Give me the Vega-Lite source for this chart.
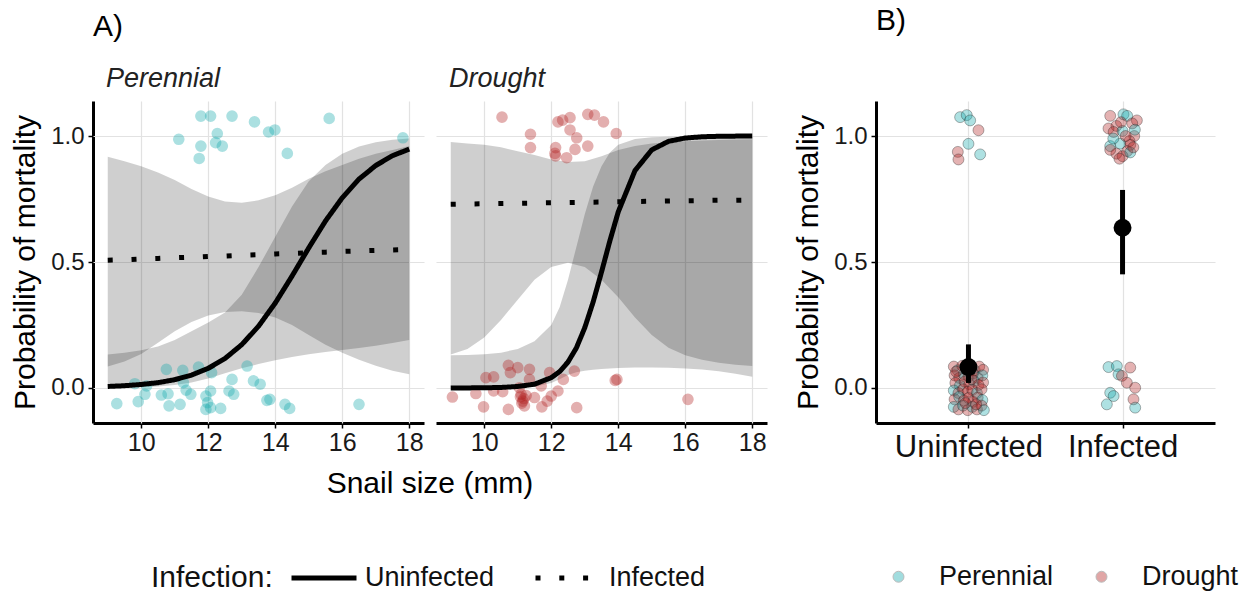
{
  "$schema": "https://vega.github.io/schema/vega-lite/v6.json",
  "background": "white",
  "padding": {"left": 10, "top": 6, "right": 5, "bottom": 0},
  "datasets": {
    "a": [
      {"k":"f","h":"Perennial","i":"Uninfected","s":9.0,"f":0.006,"lo":0.0,"hi":0.133},
      {"k":"f","h":"Perennial","i":"Uninfected","s":9.5,"f":0.009,"lo":0.001,"hi":0.14},
      {"k":"f","h":"Perennial","i":"Uninfected","s":10,"f":0.014,"lo":0.003,"hi":0.15},
      {"k":"f","h":"Perennial","i":"Uninfected","s":10.5,"f":0.021,"lo":0.006,"hi":0.165},
      {"k":"f","h":"Perennial","i":"Uninfected","s":11,"f":0.033,"lo":0.012,"hi":0.19},
      {"k":"f","h":"Perennial","i":"Uninfected","s":11.5,"f":0.051,"lo":0.022,"hi":0.225},
      {"k":"f","h":"Perennial","i":"Uninfected","s":12,"f":0.078,"lo":0.038,"hi":0.26},
      {"k":"f","h":"Perennial","i":"Uninfected","s":12.5,"f":0.117,"lo":0.058,"hi":0.3},
      {"k":"f","h":"Perennial","i":"Uninfected","s":13,"f":0.172,"lo":0.078,"hi":0.37},
      {"k":"f","h":"Perennial","i":"Uninfected","s":13.5,"f":0.245,"lo":0.095,"hi":0.48},
      {"k":"f","h":"Perennial","i":"Uninfected","s":14,"f":0.337,"lo":0.11,"hi":0.6},
      {"k":"f","h":"Perennial","i":"Uninfected","s":14.5,"f":0.444,"lo":0.123,"hi":0.72},
      {"k":"f","h":"Perennial","i":"Uninfected","s":15,"f":0.556,"lo":0.134,"hi":0.82},
      {"k":"f","h":"Perennial","i":"Uninfected","s":15.5,"f":0.663,"lo":0.143,"hi":0.885},
      {"k":"f","h":"Perennial","i":"Uninfected","s":16,"f":0.755,"lo":0.151,"hi":0.93},
      {"k":"f","h":"Perennial","i":"Uninfected","s":16.5,"f":0.829,"lo":0.159,"hi":0.958},
      {"k":"f","h":"Perennial","i":"Uninfected","s":17,"f":0.883,"lo":0.168,"hi":0.975},
      {"k":"f","h":"Perennial","i":"Uninfected","s":17.5,"f":0.922,"lo":0.179,"hi":0.985},
      {"k":"f","h":"Perennial","i":"Uninfected","s":18,"f":0.948,"lo":0.19,"hi":0.99},
      {"k":"f","h":"Perennial","i":"Infected","s":9.0,"f":0.507,"lo":0.085,"hi":0.918},
      {"k":"f","h":"Perennial","i":"Infected","s":9.5,"f":0.509,"lo":0.105,"hi":0.9},
      {"k":"f","h":"Perennial","i":"Infected","s":10,"f":0.512,"lo":0.135,"hi":0.88},
      {"k":"f","h":"Perennial","i":"Infected","s":10.5,"f":0.514,"lo":0.18,"hi":0.855},
      {"k":"f","h":"Perennial","i":"Infected","s":11,"f":0.517,"lo":0.225,"hi":0.825},
      {"k":"f","h":"Perennial","i":"Infected","s":11.5,"f":0.519,"lo":0.262,"hi":0.79},
      {"k":"f","h":"Perennial","i":"Infected","s":12,"f":0.522,"lo":0.288,"hi":0.76},
      {"k":"f","h":"Perennial","i":"Infected","s":12.5,"f":0.524,"lo":0.302,"hi":0.74},
      {"k":"f","h":"Perennial","i":"Infected","s":13,"f":0.527,"lo":0.305,"hi":0.735},
      {"k":"f","h":"Perennial","i":"Infected","s":13.5,"f":0.529,"lo":0.298,"hi":0.745},
      {"k":"f","h":"Perennial","i":"Infected","s":14,"f":0.532,"lo":0.28,"hi":0.765},
      {"k":"f","h":"Perennial","i":"Infected","s":14.5,"f":0.534,"lo":0.25,"hi":0.795},
      {"k":"f","h":"Perennial","i":"Infected","s":15,"f":0.537,"lo":0.21,"hi":0.83},
      {"k":"f","h":"Perennial","i":"Infected","s":15.5,"f":0.539,"lo":0.172,"hi":0.86},
      {"k":"f","h":"Perennial","i":"Infected","s":16,"f":0.542,"lo":0.14,"hi":0.885},
      {"k":"f","h":"Perennial","i":"Infected","s":16.5,"f":0.544,"lo":0.112,"hi":0.91},
      {"k":"f","h":"Perennial","i":"Infected","s":17,"f":0.546,"lo":0.088,"hi":0.93},
      {"k":"f","h":"Perennial","i":"Infected","s":17.5,"f":0.548,"lo":0.068,"hi":0.945},
      {"k":"f","h":"Perennial","i":"Infected","s":18,"f":0.55,"lo":0.054,"hi":0.96},
      {"k":"f","h":"Drought","i":"Uninfected","s":9.0,"f":0.0001,"lo":0.0,"hi":0.13},
      {"k":"f","h":"Drought","i":"Uninfected","s":9.5,"f":0.0003,"lo":0.0,"hi":0.131},
      {"k":"f","h":"Drought","i":"Uninfected","s":10,"f":0.0008,"lo":0.0,"hi":0.134},
      {"k":"f","h":"Drought","i":"Uninfected","s":10.5,"f":0.002,"lo":0.0,"hi":0.14},
      {"k":"f","h":"Drought","i":"Uninfected","s":11,"f":0.006,"lo":0.001,"hi":0.155},
      {"k":"f","h":"Drought","i":"Uninfected","s":11.5,"f":0.015,"lo":0.005,"hi":0.185},
      {"k":"f","h":"Drought","i":"Uninfected","s":12,"f":0.041,"lo":0.02,"hi":0.25},
      {"k":"f","h":"Drought","i":"Uninfected","s":12.25,"f":0.065,"lo":0.035,"hi":0.32},
      {"k":"f","h":"Drought","i":"Uninfected","s":12.5,"f":0.103,"lo":0.052,"hi":0.43},
      {"k":"f","h":"Drought","i":"Uninfected","s":12.75,"f":0.159,"lo":0.062,"hi":0.56},
      {"k":"f","h":"Drought","i":"Uninfected","s":13,"f":0.239,"lo":0.068,"hi":0.69},
      {"k":"f","h":"Drought","i":"Uninfected","s":13.25,"f":0.341,"lo":0.072,"hi":0.8},
      {"k":"f","h":"Drought","i":"Uninfected","s":13.5,"f":0.46,"lo":0.075,"hi":0.88},
      {"k":"f","h":"Drought","i":"Uninfected","s":13.75,"f":0.584,"lo":0.077,"hi":0.935},
      {"k":"f","h":"Drought","i":"Uninfected","s":14,"f":0.699,"lo":0.079,"hi":0.965},
      {"k":"f","h":"Drought","i":"Uninfected","s":14.5,"f":0.863,"lo":0.081,"hi":0.988},
      {"k":"f","h":"Drought","i":"Uninfected","s":15,"f":0.945,"lo":0.081,"hi":0.995},
      {"k":"f","h":"Drought","i":"Uninfected","s":15.5,"f":0.979,"lo":0.08,"hi":0.997},
      {"k":"f","h":"Drought","i":"Uninfected","s":16,"f":0.992,"lo":0.077,"hi":0.998},
      {"k":"f","h":"Drought","i":"Uninfected","s":16.5,"f":0.997,"lo":0.073,"hi":0.999},
      {"k":"f","h":"Drought","i":"Uninfected","s":17,"f":0.999,"lo":0.066,"hi":0.9995},
      {"k":"f","h":"Drought","i":"Uninfected","s":17.5,"f":0.9996,"lo":0.056,"hi":0.9998},
      {"k":"f","h":"Drought","i":"Uninfected","s":18,"f":0.9999,"lo":0.045,"hi":1.0},
      {"k":"f","h":"Drought","i":"Infected","s":9.0,"f":0.729,"lo":0.133,"hi":0.976},
      {"k":"f","h":"Drought","i":"Infected","s":9.5,"f":0.73,"lo":0.155,"hi":0.97},
      {"k":"f","h":"Drought","i":"Infected","s":10,"f":0.731,"lo":0.2,"hi":0.965},
      {"k":"f","h":"Drought","i":"Infected","s":10.5,"f":0.732,"lo":0.27,"hi":0.955},
      {"k":"f","h":"Drought","i":"Infected","s":11,"f":0.733,"lo":0.35,"hi":0.94},
      {"k":"f","h":"Drought","i":"Infected","s":11.5,"f":0.734,"lo":0.43,"hi":0.925},
      {"k":"f","h":"Drought","i":"Infected","s":12,"f":0.735,"lo":0.48,"hi":0.907},
      {"k":"f","h":"Drought","i":"Infected","s":12.5,"f":0.736,"lo":0.497,"hi":0.897},
      {"k":"f","h":"Drought","i":"Infected","s":13,"f":0.737,"lo":0.48,"hi":0.9},
      {"k":"f","h":"Drought","i":"Infected","s":13.5,"f":0.738,"lo":0.43,"hi":0.92},
      {"k":"f","h":"Drought","i":"Infected","s":14,"f":0.739,"lo":0.36,"hi":0.945},
      {"k":"f","h":"Drought","i":"Infected","s":14.5,"f":0.74,"lo":0.28,"hi":0.96},
      {"k":"f","h":"Drought","i":"Infected","s":15,"f":0.741,"lo":0.21,"hi":0.97},
      {"k":"f","h":"Drought","i":"Infected","s":15.5,"f":0.742,"lo":0.16,"hi":0.975},
      {"k":"f","h":"Drought","i":"Infected","s":16,"f":0.743,"lo":0.13,"hi":0.979},
      {"k":"f","h":"Drought","i":"Infected","s":16.5,"f":0.744,"lo":0.112,"hi":0.982},
      {"k":"f","h":"Drought","i":"Infected","s":17,"f":0.745,"lo":0.1,"hi":0.984},
      {"k":"f","h":"Drought","i":"Infected","s":17.5,"f":0.745,"lo":0.092,"hi":0.986},
      {"k":"f","h":"Drought","i":"Infected","s":18,"f":0.746,"lo":0.087,"hi":0.987},
      {"k":"p","h":"Perennial","s":11.12,"v":0.987},
      {"k":"p","h":"Perennial","s":11.78,"v":1.079},
      {"k":"p","h":"Perennial","s":12.07,"v":1.079},
      {"k":"p","h":"Perennial","s":12.71,"v":1.079},
      {"k":"p","h":"Perennial","s":13.38,"v":1.056},
      {"k":"p","h":"Perennial","s":13.8,"v":1.016},
      {"k":"p","h":"Perennial","s":13.99,"v":1.024},
      {"k":"p","h":"Perennial","s":15.61,"v":1.07},
      {"k":"p","h":"Perennial","s":17.81,"v":0.993},
      {"k":"p","h":"Perennial","s":12.27,"v":1.01},
      {"k":"p","h":"Perennial","s":12.22,"v":0.974},
      {"k":"p","h":"Perennial","s":12.42,"v":0.96},
      {"k":"p","h":"Perennial","s":11.78,"v":0.96},
      {"k":"p","h":"Perennial","s":11.73,"v":0.911},
      {"k":"p","h":"Perennial","s":14.36,"v":0.931},
      {"k":"p","h":"Perennial","s":9.27,"v":-0.062},
      {"k":"p","h":"Perennial","s":9.81,"v":0.017},
      {"k":"p","h":"Perennial","s":9.91,"v":-0.054},
      {"k":"p","h":"Perennial","s":10.11,"v":-0.025},
      {"k":"p","h":"Perennial","s":10.16,"v":0.008},
      {"k":"p","h":"Perennial","s":10.6,"v":-0.028},
      {"k":"p","h":"Perennial","s":10.75,"v":0.074},
      {"k":"p","h":"Perennial","s":10.8,"v":-0.023},
      {"k":"p","h":"Perennial","s":10.83,"v":-0.071},
      {"k":"p","h":"Perennial","s":11.16,"v":-0.065},
      {"k":"p","h":"Perennial","s":11.24,"v":0.07},
      {"k":"p","h":"Perennial","s":11.26,"v":0.021},
      {"k":"p","h":"Perennial","s":11.34,"v":-0.009},
      {"k":"p","h":"Perennial","s":11.48,"v":-0.025},
      {"k":"p","h":"Perennial","s":11.71,"v":0.083},
      {"k":"p","h":"Perennial","s":11.93,"v":-0.032},
      {"k":"p","h":"Perennial","s":11.98,"v":-0.058},
      {"k":"p","h":"Perennial","s":11.93,"v":-0.085},
      {"k":"p","h":"Perennial","s":12.07,"v":-0.078},
      {"k":"p","h":"Perennial","s":12.1,"v":0.061},
      {"k":"p","h":"Perennial","s":12.07,"v":-0.012},
      {"k":"p","h":"Perennial","s":12.37,"v":-0.081},
      {"k":"p","h":"Perennial","s":12.62,"v":-0.012},
      {"k":"p","h":"Perennial","s":12.71,"v":0.034},
      {"k":"p","h":"Perennial","s":12.76,"v":-0.025},
      {"k":"p","h":"Perennial","s":13.16,"v":0.087},
      {"k":"p","h":"Perennial","s":13.35,"v":0.028},
      {"k":"p","h":"Perennial","s":13.55,"v":0.015},
      {"k":"p","h":"Perennial","s":13.75,"v":-0.049},
      {"k":"p","h":"Perennial","s":13.84,"v":-0.045},
      {"k":"p","h":"Perennial","s":14.29,"v":-0.065},
      {"k":"p","h":"Perennial","s":14.43,"v":-0.081},
      {"k":"p","h":"Perennial","s":16.5,"v":-0.065},
      {"k":"p","h":"Drought","s":10.53,"v":1.075},
      {"k":"p","h":"Drought","s":11.38,"v":1.007},
      {"k":"p","h":"Drought","s":11.38,"v":0.954},
      {"k":"p","h":"Drought","s":12.13,"v":0.954},
      {"k":"p","h":"Drought","s":12.13,"v":0.921},
      {"k":"p","h":"Drought","s":12.2,"v":1.056},
      {"k":"p","h":"Drought","s":12.34,"v":1.063},
      {"k":"p","h":"Drought","s":12.56,"v":1.073},
      {"k":"p","h":"Drought","s":12.46,"v":0.914},
      {"k":"p","h":"Drought","s":12.56,"v":1.024},
      {"k":"p","h":"Drought","s":12.76,"v":0.993},
      {"k":"p","h":"Drought","s":12.71,"v":0.947},
      {"k":"p","h":"Drought","s":13.09,"v":1.086},
      {"k":"p","h":"Drought","s":13.29,"v":1.083},
      {"k":"p","h":"Drought","s":13.56,"v":1.056},
      {"k":"p","h":"Drought","s":13.09,"v":0.96},
      {"k":"p","h":"Drought","s":13.94,"v":1.01},
      {"k":"p","h":"Drought","s":12.11,"v":0.931},
      {"k":"p","h":"Drought","s":9.05,"v":-0.036},
      {"k":"p","h":"Drought","s":9.75,"v":-0.022},
      {"k":"p","h":"Drought","s":9.98,"v":-0.075},
      {"k":"p","h":"Drought","s":10.05,"v":0.041},
      {"k":"p","h":"Drought","s":10.28,"v":0.044},
      {"k":"p","h":"Drought","s":10.28,"v":-0.012},
      {"k":"p","h":"Drought","s":10.55,"v":-0.015},
      {"k":"p","h":"Drought","s":10.72,"v":0.09},
      {"k":"p","h":"Drought","s":10.72,"v":-0.085},
      {"k":"p","h":"Drought","s":10.78,"v":0.061},
      {"k":"p","h":"Drought","s":11.0,"v":0.081},
      {"k":"p","h":"Drought","s":11.05,"v":0.001},
      {"k":"p","h":"Drought","s":11.1,"v":-0.025},
      {"k":"p","h":"Drought","s":11.15,"v":-0.052},
      {"k":"p","h":"Drought","s":11.2,"v":-0.071},
      {"k":"p","h":"Drought","s":11.35,"v":0.074},
      {"k":"p","h":"Drought","s":11.35,"v":0.034},
      {"k":"p","h":"Drought","s":11.5,"v":-0.038},
      {"k":"p","h":"Drought","s":11.7,"v":0.008},
      {"k":"p","h":"Drought","s":11.72,"v":-0.075},
      {"k":"p","h":"Drought","s":11.88,"v":-0.052},
      {"k":"p","h":"Drought","s":11.95,"v":0.061},
      {"k":"p","h":"Drought","s":12.0,"v":-0.032},
      {"k":"p","h":"Drought","s":12.2,"v":-0.012},
      {"k":"p","h":"Drought","s":12.36,"v":0.034},
      {"k":"p","h":"Drought","s":12.69,"v":0.067},
      {"k":"p","h":"Drought","s":12.76,"v":-0.078},
      {"k":"p","h":"Drought","s":13.91,"v":0.03},
      {"k":"p","h":"Drought","s":13.96,"v":0.034},
      {"k":"p","h":"Drought","s":16.08,"v":-0.045},
      {"k":"p","h":"Drought","s":11.08,"v":-0.035},
      {"k":"p","h":"Drought","s":11.18,"v":-0.042},
      {"k":"p","h":"Drought","s":11.12,"v":-0.06},
      {"k":"p","h":"Drought","s":11.25,"v":-0.03}
    ],
    "b": [
      {"x":0.946,"v":1.075,"h":"Perennial"},
      {"x":0.989,"v":1.083,"h":"Perennial"},
      {"x":1.011,"v":1.062,"h":"Perennial"},
      {"x":1.065,"v":1.023,"h":"Drought"},
      {"x":1.0,"v":0.969,"h":"Perennial"},
      {"x":0.931,"v":0.937,"h":"Drought"},
      {"x":0.935,"v":0.907,"h":"Drought"},
      {"x":1.076,"v":0.927,"h":"Perennial"},
      {"x":1.92,"v":1.08,"h":"Drought"},
      {"x":2.006,"v":1.086,"h":"Perennial"},
      {"x":2.03,"v":1.08,"h":"Perennial"},
      {"x":2.093,"v":1.062,"h":"Drought"},
      {"x":2.063,"v":1.05,"h":"Drought"},
      {"x":1.96,"v":1.04,"h":"Drought"},
      {"x":1.909,"v":1.03,"h":"Drought"},
      {"x":1.942,"v":1.016,"h":"Drought"},
      {"x":2.0,"v":1.02,"h":"Perennial"},
      {"x":2.076,"v":1.0,"h":"Drought"},
      {"x":2.045,"v":0.98,"h":"Drought"},
      {"x":1.985,"v":0.97,"h":"Perennial"},
      {"x":1.92,"v":0.96,"h":"Perennial"},
      {"x":2.05,"v":0.965,"h":"Drought"},
      {"x":2.03,"v":0.94,"h":"Drought"},
      {"x":1.96,"v":0.93,"h":"Drought"},
      {"x":2.0,"v":0.92,"h":"Drought"},
      {"x":1.92,"v":0.945,"h":"Drought"},
      {"x":2.08,"v":1.025,"h":"Perennial"},
      {"x":2.05,"v":0.935,"h":"Perennial"},
      {"x":1.98,"v":0.91,"h":"Drought"},
      {"x":2.02,"v":1.0,"h":"Drought"},
      {"x":1.94,"v":0.99,"h":"Perennial"},
      {"x":2.07,"v":0.955,"h":"Drought"},
      {"x":1.99,"v":1.055,"h":"Drought"},
      {"x":1.909,"v":0.083,"h":"Perennial"},
      {"x":1.963,"v":0.087,"h":"Perennial"},
      {"x":2.05,"v":0.081,"h":"Drought"},
      {"x":1.974,"v":0.054,"h":"Perennial"},
      {"x":1.996,"v":0.048,"h":"Drought"},
      {"x":2.028,"v":0.021,"h":"Drought"},
      {"x":2.082,"v":0.001,"h":"Drought"},
      {"x":1.92,"v":-0.019,"h":"Perennial"},
      {"x":1.942,"v":-0.032,"h":"Perennial"},
      {"x":2.071,"v":-0.045,"h":"Drought"},
      {"x":1.898,"v":-0.065,"h":"Perennial"},
      {"x":2.082,"v":-0.078,"h":"Perennial"},
      {"x":0.905,"v":0.085,"h":"Drought"},
      {"x":0.93,"v":0.07,"h":"Perennial"},
      {"x":0.96,"v":0.088,"h":"Drought"},
      {"x":0.985,"v":0.075,"h":"Drought"},
      {"x":1.01,"v":0.082,"h":"Drought"},
      {"x":1.04,"v":0.07,"h":"Perennial"},
      {"x":1.07,"v":0.085,"h":"Drought"},
      {"x":1.095,"v":0.072,"h":"Drought"},
      {"x":0.91,"v":0.05,"h":"Drought"},
      {"x":0.94,"v":0.04,"h":"Drought"},
      {"x":0.97,"v":0.055,"h":"Perennial"},
      {"x":1.0,"v":0.045,"h":"Drought"},
      {"x":1.03,"v":0.058,"h":"Drought"},
      {"x":1.06,"v":0.04,"h":"Drought"},
      {"x":1.09,"v":0.05,"h":"Perennial"},
      {"x":0.915,"v":0.02,"h":"Drought"},
      {"x":0.945,"v":0.01,"h":"Perennial"},
      {"x":0.975,"v":0.025,"h":"Drought"},
      {"x":1.005,"v":0.015,"h":"Drought"},
      {"x":1.035,"v":0.028,"h":"Perennial"},
      {"x":1.065,"v":0.012,"h":"Drought"},
      {"x":1.095,"v":0.022,"h":"Drought"},
      {"x":0.905,"v":-0.01,"h":"Perennial"},
      {"x":0.935,"v":-0.02,"h":"Drought"},
      {"x":0.965,"v":-0.005,"h":"Drought"},
      {"x":0.995,"v":-0.015,"h":"Drought"},
      {"x":1.025,"v":-0.008,"h":"Drought"},
      {"x":1.055,"v":-0.02,"h":"Perennial"},
      {"x":1.085,"v":-0.005,"h":"Drought"},
      {"x":0.91,"v":-0.045,"h":"Drought"},
      {"x":0.94,"v":-0.035,"h":"Perennial"},
      {"x":0.97,"v":-0.05,"h":"Drought"},
      {"x":1.0,"v":-0.04,"h":"Drought"},
      {"x":1.03,"v":-0.055,"h":"Drought"},
      {"x":1.06,"v":-0.038,"h":"Drought"},
      {"x":1.09,"v":-0.048,"h":"Perennial"},
      {"x":0.905,"v":-0.075,"h":"Perennial"},
      {"x":0.935,"v":-0.085,"h":"Drought"},
      {"x":0.965,"v":-0.07,"h":"Perennial"},
      {"x":0.995,"v":-0.088,"h":"Drought"},
      {"x":1.025,"v":-0.075,"h":"Perennial"},
      {"x":1.055,"v":-0.085,"h":"Drought"},
      {"x":1.085,"v":-0.07,"h":"Drought"},
      {"x":1.1,"v":-0.088,"h":"Perennial"},
      {"x":0.92,"v":0.065,"h":"Drought"},
      {"x":1.05,"v":-0.065,"h":"Drought"},
      {"x":0.98,"v":-0.06,"h":"Drought"},
      {"x":1.02,"v":0.035,"h":"Drought"}
    ],
    "bs": [
      {"x":1,"est":0.083,"lo":0.02,"hi":0.173},
      {"x":2,"est":0.636,"lo":0.451,"hi":0.786}
    ]
  },
  "hconcat": [
    {
      "data": {"name": "a"},
      "title": {"text": "A)", "offset": 23},
      "facet": {
        "column": {
          "field": "h", "type": "nominal", "sort": ["Perennial", "Drought"], "title": "Snail size (mm)",
          "header": {"labelFontSize": 27, "labelFontStyle": "italic", "labelAnchor": "start", "labelAlign": "left", "labelColor": "#222", "labelPadding": 8, "labelExpr": "'\u200b\u00a0\u2009' + datum.value", "labelOrient": "top",
                     "titleOrient": "bottom", "titleFontSize": 30, "titleFontWeight": "normal", "titleColor": "#000", "titlePadding": 4}
        }
      },
      "spacing": 12,
      "spec": {
        "width": 331,
        "height": 322,
        "layer": [
          {
            "transform": [{"filter": "datum.k === 'f'"}],
            "mark": {"type": "area", "color": "#000", "opacity": 0.19},
            "encoding": {
              "x": {"field": "s", "type": "quantitative", "scale": {"domain": [8.56, 18.44], "nice": false, "zero": false},
                    "axis": {"values": [10, 12, 14, 16, 18], "title": null, "labelFontSize": 25, "labelPadding": 2}},
              "y": {"field": "lo", "type": "quantitative", "scale": {"domain": [-0.139, 1.139], "nice": false, "zero": false},
                    "axis": {"values": [0, 0.5, 1], "format": ".1f", "title": "Probability of mortality", "titlePadding": 10}},
              "y2": {"field": "hi"},
              "detail": {"field": "i", "type": "nominal"}
            }
          },
          {
            "transform": [{"filter": "datum.k === 'p'"}],
            "mark": {"type": "point", "filled": true, "size": 135, "opacity": 0.36},
            "encoding": {
              "x": {"field": "s", "type": "quantitative"},
              "y": {"field": "v", "type": "quantitative"},
              "color": {"field": "h", "type": "nominal", "scale": {"domain": ["Perennial", "Drought"], "range": ["#17a9ad", "#b22222"]}, "legend": null}
            }
          },
          {
            "transform": [{"filter": "datum.k === 'f'"}],
            "mark": {"type": "line", "color": "#000", "strokeWidth": 5, "strokeCap": "butt"},
            "encoding": {
              "x": {"field": "s", "type": "quantitative"},
              "y": {"field": "f", "type": "quantitative"},
              "strokeDash": {
                "field": "i", "type": "nominal",
                "scale": {"domain": ["Uninfected", "Infected"], "range": [[1, 0], [5, 18.8]]},
                "legend": {"title": "Infection:", "orient": "none", "legendX": 58, "legendY": 442, "direction": "horizontal", "titleOrient": "left",
                           "titleFontSize": 30, "titleFontWeight": "normal", "titleColor": "#111", "titleAnchor": "middle", "titleBaseline": "line-top", "titleLineHeight": 22, "labelFontSize": 27, "labelColor": "#111",
                           "symbolType": "stroke", "symbolStrokeWidth": 5, "symbolSize": 4225, "symbolStrokeColor": "#000",
                           "columnPadding": 30, "labelOffset": 6, "titlePadding": 16, "padding": 0}
              }
            }
          }
        ]
      }
    },
    {
      "width": 339,
      "height": 322,
      "title": {"text": "B)", "offset": 65},
      "layer": [
        {
          "data": {"name": "b"},
          "mark": {"type": "point", "filled": true, "size": 120, "fillOpacity": 0.35, "stroke": "#222", "strokeOpacity": 0.35, "strokeWidth": 1},
          "encoding": {
            "x": {"field": "x", "type": "quantitative", "scale": {"domain": [0.4, 2.6], "nice": false, "zero": false},
                  "axis": {"values": [1, 2], "labelExpr": "datum.value == 1 ? 'Uninfected' : 'Infected'", "title": null, "labelFontSize": 31, "labelColor": "#111"}},
            "y": {"field": "v", "type": "quantitative", "scale": {"domain": [-0.139, 1.139], "nice": false, "zero": false},
                  "axis": {"values": [0, 0.5, 1], "format": ".1f", "title": "Probability of mortality", "titlePadding": 10}},
            "color": {"field": "h", "type": "nominal", "scale": {"domain": ["Perennial", "Drought"], "range": ["#17a9ad", "#b22222"]},
                      "legend": {"title": null, "orient": "none", "legendX": 9, "legendY": 462, "direction": "horizontal", "labelFontSize": 27, "labelColor": "#111",
                                 "symbolSize": 120, "symbolStrokeColor": "#555", "symbolStrokeWidth": 1, "symbolOpacity": 0.4,
                                 "columnPadding": 34, "labelOffset": 27, "padding": 0}}
          }
        },
        {
          "data": {"name": "bs"},
          "mark": {"type": "rule", "strokeWidth": 5, "color": "#000"},
          "encoding": {
            "x": {"field": "x", "type": "quantitative"},
            "y": {"field": "lo", "type": "quantitative"},
            "y2": {"field": "hi"}
          }
        },
        {
          "data": {"name": "bs"},
          "mark": {"type": "circle", "size": 320, "color": "#000", "opacity": 1},
          "encoding": {
            "x": {"field": "x", "type": "quantitative"},
            "y": {"field": "est", "type": "quantitative"}
          }
        }
      ]
    }
  ],
  "spacing": 26,
  "resolve": {"legend": {"color": "independent", "strokeDash": "independent"}},
  "config": {
    "font": "Liberation Sans",
    "view": {"stroke": null},
    "axis": {"domainColor": "#000", "domainWidth": 3, "tickColor": "#000", "tickWidth": 1.5, "tickSize": 5,
             "gridColor": "#e2e2e2", "gridWidth": 1.2, "labelColor": "#1a1a1a", "labelFontSize": 24,
             "titleFontSize": 30, "titleFontWeight": "normal", "titleColor": "#000", "labelPadding": 4},
    "title": {"fontWeight": "normal", "fontSize": 30, "anchor": "start", "frame": "group", "color": "#000"}
  }
}
